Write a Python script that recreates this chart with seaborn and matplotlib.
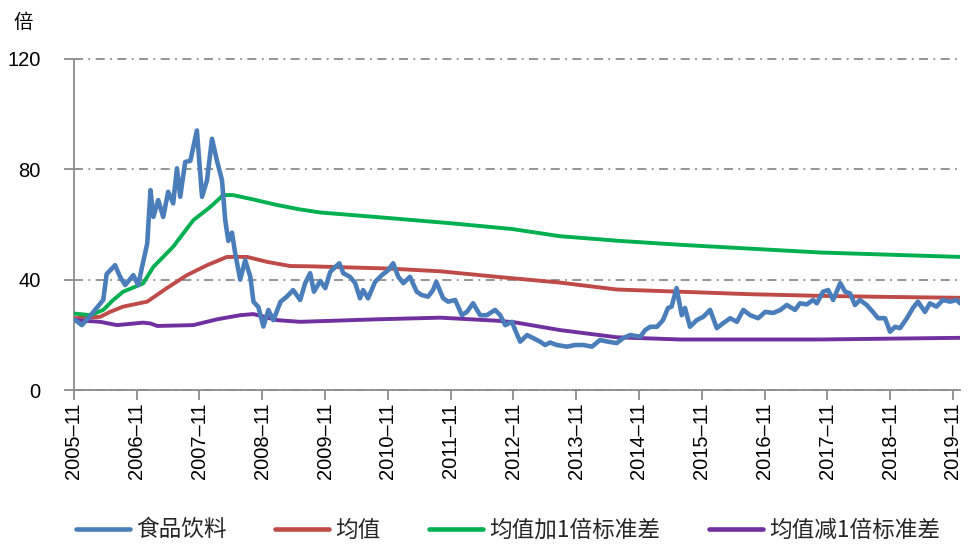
import matplotlib
matplotlib.use("Agg")
import matplotlib.pyplot as plt
from matplotlib.lines import Line2D
import seaborn as sns
import pandas as pd

# ---------------- data ----------------
pe_dates = [
    "2005-11-01", "2005-11-09", "2005-12-17", "2006-02-05", "2006-04-20", "2006-05-10",
    "2006-06-28", "2006-07-27", "2006-08-26", "2006-10-12", "2006-11-10", "2006-12-02",
    "2007-01-01", "2007-01-20", "2007-02-06", "2007-03-06", "2007-04-04", "2007-05-03",
    "2007-06-01", "2007-06-23", "2007-07-12", "2007-08-10", "2007-09-09", "2007-10-17",
    "2007-11-16", "2007-12-15", "2008-01-13", "2008-02-11", "2008-03-11", "2008-03-30",
    "2008-04-17", "2008-05-08", "2008-05-27", "2008-06-25", "2008-07-24", "2008-08-23",
    "2008-09-10", "2008-10-09", "2008-11-07", "2008-12-06", "2009-01-04", "2009-02-15",
    "2009-03-23", "2009-04-29", "2009-06-09", "2009-07-08", "2009-08-06", "2009-08-28",
    "2009-10-04", "2009-11-02", "2009-12-01", "2009-12-31", "2010-01-23", "2010-02-15",
    "2010-03-26", "2010-04-25", "2010-05-23", "2010-06-10", "2010-07-09", "2010-08-19",
    "2010-09-27", "2010-11-03", "2010-12-02", "2011-01-01", "2011-01-30", "2011-03-10",
    "2011-04-18", "2011-05-17", "2011-06-23", "2011-07-22", "2011-08-10", "2011-08-25",
    "2011-09-19", "2011-10-18", "2011-11-28", "2012-01-06", "2012-02-04", "2012-03-11",
    "2012-04-21", "2012-05-30", "2012-07-17", "2012-08-16", "2012-09-14", "2012-10-23",
    "2012-11-11", "2012-12-10", "2013-01-19", "2013-02-24", "2013-04-05", "2013-05-04",
    "2013-06-02", "2013-07-11", "2013-09-08", "2013-10-26", "2013-12-12", "2014-02-01",
    "2014-03-19", "2014-05-05", "2014-06-25", "2014-08-01", "2014-09-11", "2014-11-09",
    "2014-12-07", "2015-01-06", "2015-02-14", "2015-03-21", "2015-04-19", "2015-05-10",
    "2015-06-08", "2015-07-08", "2015-07-27", "2015-08-25", "2015-10-03", "2015-11-10",
    "2015-12-20", "2016-01-28", "2016-03-05", "2016-04-15", "2016-05-24", "2016-06-30",
    "2016-08-09", "2016-09-25", "2016-11-05", "2016-12-21", "2017-02-01", "2017-03-10",
    "2017-04-27", "2017-05-26", "2017-07-04", "2017-08-10", "2017-09-01", "2017-10-07",
    "2017-11-06", "2017-12-05", "2018-01-15", "2018-02-13", "2018-03-13", "2018-04-11",
    "2018-05-10", "2018-06-18", "2018-07-24", "2018-08-23", "2018-10-03", "2018-11-01",
    "2018-11-30", "2018-12-29", "2019-02-07", "2019-03-14", "2019-04-12", "2019-05-23",
    "2019-06-21", "2019-07-29", "2019-09-05", "2019-10-16", "2019-11-24", "2019-12-13",
]
pe_values = [
    25.5, 25.3, 23.5, 27.0, 32.6, 42.0,
    45.2, 41.0, 38.0, 41.6, 38.0, 44.6,
    53.0, 72.4, 62.7, 68.8, 62.7, 71.8,
    67.6, 80.3, 70.0, 82.6, 83.0, 94.0,
    70.0, 76.0, 91.0, 83.0, 76.0, 61.5,
    54.0, 57.0, 49.5, 40.0, 47.0, 41.0,
    32.0, 30.0, 23.0, 29.0, 25.3, 32.0,
    33.8, 36.2, 32.6, 38.7, 42.3, 35.6,
    39.5, 36.9, 42.8, 44.6, 45.9, 42.3,
    41.0, 38.7, 33.2, 36.2, 33.2, 39.2,
    41.6, 43.4, 45.9, 41.0, 38.7, 41.0,
    35.6, 34.4, 33.8, 36.2, 39.2, 36.9,
    33.2, 32.0, 32.6, 27.1, 28.3, 31.4,
    27.1, 27.1, 29.0, 27.1, 23.5, 24.7,
    21.7, 17.5, 19.9, 18.8, 17.5, 16.3,
    17.2, 16.3, 15.7, 16.3, 16.3, 15.7,
    18.1, 17.5, 17.0, 18.8, 19.9, 19.3,
    21.7, 22.9, 22.9, 25.3, 29.7, 30.2,
    36.9, 27.1, 29.7, 22.9, 25.3, 26.5,
    29.0, 22.4, 24.2, 26.0, 24.7, 29.0,
    27.1, 26.0, 28.3, 27.9, 29.0, 30.8,
    29.0, 31.4, 31.0, 32.6, 31.4, 35.6,
    36.2, 32.6, 38.7, 35.6, 35.0, 30.8,
    32.6, 30.8, 28.3, 26.0, 26.0, 21.1,
    22.9, 22.4, 26.0, 29.7, 32.0, 28.3,
    31.4, 30.2, 32.6, 32.0, 32.6, 31.4,
]

mean_dates = [
    "2005-11-01", "2006-04-02", "2006-05-30", "2006-08-14", "2007-01-01", "2007-04-25",
    "2007-08-20", "2007-12-15", "2008-04-09", "2008-08-04", "2008-11-29", "2009-04-12",
    "2009-08-06", "2010-11-03", "2011-09-01", "2012-07-27", "2013-07-30", "2014-06-25",
    "2015-06-28", "2016-08-09", "2017-09-20", "2018-11-01", "2019-12-13",
]
mean_values = [
    26.0, 26.5, 28.3, 30.2, 32.0, 36.9,
    41.6, 45.2, 48.2, 48.2, 46.4, 44.9,
    44.8, 44.0, 43.0, 41.0, 38.9, 36.4,
    35.6, 34.7, 34.1, 33.7, 33.4,
]

upper_dates = [
    "2005-11-01", "2006-02-05", "2006-04-20", "2006-06-17", "2006-08-14", "2006-12-08",
    "2007-02-06", "2007-06-01", "2007-09-26", "2008-01-03", "2008-03-18", "2008-05-15",
    "2008-09-10", "2009-01-26", "2009-06-09", "2009-10-04", "2010-11-03", "2011-11-01",
    "2012-10-25", "2013-07-30", "2014-07-13", "2015-06-28", "2016-08-09", "2017-09-20",
    "2018-11-01", "2019-12-13",
]
upper_values = [
    27.7, 27.1, 29.0, 32.6, 35.6, 38.6,
    44.6, 51.9, 61.5, 66.3, 70.6, 70.6,
    69.0, 67.0, 65.4, 64.3, 62.3, 60.4,
    58.3, 55.7, 54.0, 52.6, 51.2, 49.8,
    49.0, 48.2,
]

lower_dates = [
    "2005-11-01", "2006-04-02", "2006-07-09", "2006-12-08", "2007-01-20", "2007-02-28",
    "2007-09-26", "2008-02-11", "2008-06-25", "2008-09-10", "2009-01-26", "2009-06-09",
    "2010-08-29", "2011-09-01", "2012-07-27", "2012-11-10", "2013-07-30", "2014-06-25",
    "2015-06-28", "2017-09-20", "2019-12-13",
]
lower_values = [
    25.3, 24.7, 23.5, 24.4, 24.1, 23.2,
    23.5, 25.6, 27.1, 27.5, 25.3, 24.7,
    25.6, 26.2, 25.1, 24.5, 21.7, 19.1,
    18.3, 18.3, 18.9,
]

tick_labels = ["2005-11", "2006-11", "2007-11", "2008-11", "2009-11", "2010-11",
               "2011-11", "2012-11", "2013-11", "2014-11", "2015-11", "2016-11",
               "2017-11", "2018-11", "2019-11"]
y_ticks = [0, 40, 80, 120]
series_names = ["食品饮料", "均值", "均值加1倍标准差", "均值减1倍标准差"]
unit_label = "倍"

# ---------------- style ----------------
sns.set_theme(style="white")
plt.rcParams['font.family'] = ['Liberation Sans', 'Noto Sans CJK SC']

C_BLUE = "#4A7EBB"
C_RED = "#BE4B48"
C_GREEN = "#00B050"
C_PURPLE = "#7030A0"
C_AXIS = "#8C8C8C"

W, H = 971, 547
fig = plt.figure(figsize=(W / 100, H / 100), dpi=100)
ax = fig.add_axes([74 / W, 1 - 390 / H, (960 - 74) / W, (390 - 58.7) / H])

df_pe = pd.DataFrame({"date": pd.to_datetime(pe_dates), "v": pe_values})
df_mean = pd.DataFrame({"date": pd.to_datetime(mean_dates), "v": mean_values})
df_up = pd.DataFrame({"date": pd.to_datetime(upper_dates), "v": upper_values})
df_lo = pd.DataFrame({"date": pd.to_datetime(lower_dates), "v": lower_values})

sns.lineplot(data=df_mean, x="date", y="v", ax=ax, color=C_RED, lw=2.8, legend=False, zorder=3)
sns.lineplot(data=df_up, x="date", y="v", ax=ax, color=C_GREEN, lw=2.8, legend=False, zorder=3)
sns.lineplot(data=df_lo, x="date", y="v", ax=ax, color=C_PURPLE, lw=2.8, legend=False, zorder=3)
sns.lineplot(data=df_pe, x="date", y="v", ax=ax, color=C_BLUE, lw=3.3, legend=False, zorder=4)

ax.set_xlim(pd.Timestamp("2005-11-01"), pd.Timestamp("2019-12-13"))
ax.set_ylim(0, 120)
ax.set_xlabel("")
ax.set_ylabel("")

ticks = pd.to_datetime([t + "-01" for t in tick_labels])
ax.set_xticks(ticks)
ax.set_xticklabels([t.replace("-", "\u2013") for t in tick_labels], rotation=90)
ax.set_yticks(y_ticks)
ax.set_yticklabels([str(v) for v in y_ticks])

ax.tick_params(axis="x", direction="out", length=7, width=1.3, color=C_AXIS,
               pad=2, labelsize=14.5, labelcolor="black", bottom=True)
ax.tick_params(axis="y", direction="out", length=7, width=1.3, color=C_AXIS,
               pad=17, labelsize=14.5, labelcolor="black", left=True)

for s in ["top", "right"]:
    ax.spines[s].set_visible(False)
for s in ["left", "bottom"]:
    ax.spines[s].set_color(C_AXIS)
    ax.spines[s].set_linewidth(1.3)

ax.yaxis.grid(True, linestyle=(0, (5, 3, 1, 3)), color=C_AXIS, lw=1.3)
ax.xaxis.grid(False)
for gl in ax.get_ygridlines():
    gl.set_clip_on(False)
ax.set_axisbelow(True)

fig.text(23 / W, 1 - 22 / H, unit_label, ha="center", va="center", fontsize=14,
         family=["Noto Sans CJK SC", "DejaVu Sans"], color="black")

handles = [Line2D([], [], color=c, lw=3.3) for c in (C_BLUE, C_RED, C_GREEN, C_PURPLE)]
fig.legend(handles, series_names, loc="center left", bbox_to_anchor=(76 / W, 1 - 530 / H),
           ncol=4, frameon=False, borderpad=0, borderaxespad=0,
           handlelength=2.4, handletextpad=0.25, columnspacing=2.15,
           prop={"family": ["Noto Sans CJK SC", "DejaVu Sans"], "size": 16.3})

fig.savefig("out.png", dpi=100)
